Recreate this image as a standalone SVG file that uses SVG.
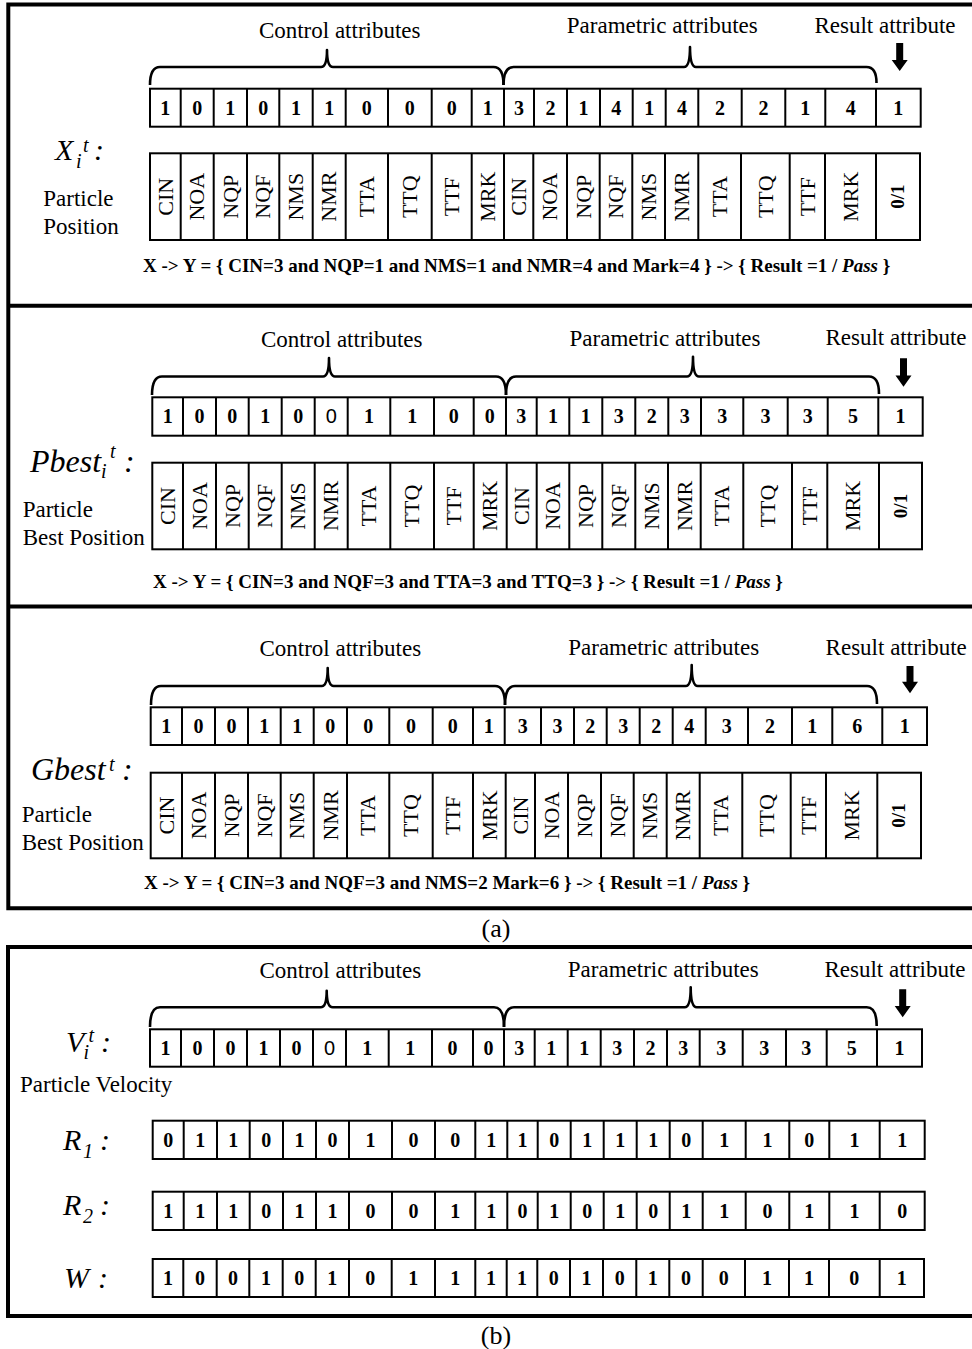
<svg xmlns="http://www.w3.org/2000/svg" width="972" height="1349" viewBox="0 0 972 1349">
<style>
text{font-family:"Liberation Serif","Times New Roman",serif;fill:#000}
.frame{fill:none;stroke:#000;stroke-width:4}
.cell{fill:#fff;stroke:#000;stroke-width:2}
.div{fill:none;stroke:#000;stroke-width:2}
.brace{fill:none;stroke:#000;stroke-width:2.6;stroke-linejoin:round}
.arrow{fill:#000}
.hd{font-size:23px;text-anchor:middle}
.v{font-size:20px;font-weight:bold;text-anchor:middle}
.vs{font-family:"Liberation Sans",Arial,sans-serif;font-size:20px;font-weight:normal;text-anchor:middle}
.lb{font-size:22px;text-anchor:middle}
.lbb{font-size:19px;font-weight:bold;text-anchor:middle}
.t{font-size:23px}
.big{font-style:italic;font-size:30px}
.big2{font-style:italic;font-size:32px}
.sub{font-style:italic;font-size:20px}
.f{font-size:19px;font-weight:bold}
.cap{font-size:26px;text-anchor:middle}
</style>

<g id="frames">
<path class="frame" d="M980 4.5H8.3V908.3H980"/>
<path class="frame" d="M8.3 305.8H980M8.3 606.5H980"/>
<path class="frame" d="M980 947H8V1316H980"/>
</g>

<g id="connectors">
<path class="brace" d="M150 85Q150 67 160 67L321 67Q327 67 327 50Q327 67 333 67L493.5 67Q503.5 67 503.5 85"/>
<path class="brace" d="M503.5 85Q503.5 67 513.5 67L684 67Q690 67 690 47Q690 67 696 67L866.5 67Q876.5 67 876.5 83"/>
<polygon class="arrow" points="896.2,43 903.2,43 903.2,60 907.7,60 899.7,71 891.7,60 896.2,60"/>

<path class="brace" d="M152 395Q152 376.5 162 376.5L323 376.5Q329 376.5 329 358Q329 376.5 335 376.5L496 376.5Q506 376.5 506 395"/>
<path class="brace" d="M506 395Q506 376.5 516 376.5L687 376.5Q693 376.5 693 356.7Q693 376.5 699 376.5L869 376.5Q879 376.5 879 394"/>
<polygon class="arrow" points="900,358.3 907,358.3 907,375.5 911.5,375.5 903.5,386.7 895.5,375.5 900,375.5"/>

<path class="brace" d="M151 705Q151 686 161 686L321.7 686Q327.7 686 327.7 668Q327.7 686 333.7 686L495 686Q505 686 505 705"/>
<path class="brace" d="M505 705Q505 686 515 686L685.7 686Q691.7 686 691.7 665Q691.7 686 697.7 686L867 686Q877 686 877 704"/>
<polygon class="arrow" points="906.5,666 913.5,666 913.5,681.7 918,681.7 910,693.3 902,681.7 906.5,681.7"/>

<path class="brace" d="M150 1027Q150 1007.3 160 1007.3L320.7 1007.3Q326.7 1007.3 326.7 990.7Q326.7 1007.3 332.7 1007.3L494 1007.3Q504 1007.3 504 1027"/>
<path class="brace" d="M504 1027Q504 1007.3 514 1007.3L684.7 1007.3Q690.7 1007.3 690.7 987.3Q690.7 1007.3 696.7 1007.3L866.7 1007.3Q876.7 1007.3 876.7 1026"/>
<polygon class="arrow" points="899.2,989.3 906.2,989.3 906.2,1006 910.7,1006 902.7,1017.3 894.7,1006 899.2,1006"/>
</g>

<g id="section-x">
<text class="hd" x="339.7" y="38.3">Control attributes</text>
<text class="hd" x="662.3" y="33.3">Parametric attributes</text>
<text class="hd" x="885" y="33.3">Result attribute</text>
<g id="x-title">
<text class="big" x="55" y="160">X</text>
<text class="sub" x="76" y="168">i</text>
<text class="sub" x="83" y="151.5">t</text>
<text class="big" x="94" y="160">:</text>
<text class="t" x="43.3" y="206">Particle</text>
<text class="t" x="43.3" y="234">Position</text>
</g>
<g id="x-values">
<rect class="cell" x="150" y="88.7" width="770.7" height="38"/>
<path class="div" d="M180.7 88.7V126.7M213.7 88.7V126.7M247 88.7V126.7M279.3 88.7V126.7M312.7 88.7V126.7M345.7 88.7V126.7M388 88.7V126.7M431.7 88.7V126.7M471.7 88.7V126.7M504 88.7V126.7M534 88.7V126.7M567 88.7V126.7M600 88.7V126.7M632.7 88.7V126.7M665.7 88.7V126.7M698.3 88.7V126.7M741.7 88.7V126.7M785.3 88.7V126.7M825.3 88.7V126.7M876 88.7V126.7"/>
<text class="v" x="165.35" y="114.5">1</text>
<text class="v" x="197.2" y="114.5">0</text>
<text class="v" x="230.35" y="114.5">1</text>
<text class="v" x="263.15" y="114.5">0</text>
<text class="v" x="296" y="114.5">1</text>
<text class="v" x="329.2" y="114.5">1</text>
<text class="v" x="366.85" y="114.5">0</text>
<text class="v" x="409.85" y="114.5">0</text>
<text class="v" x="451.7" y="114.5">0</text>
<text class="v" x="487.85" y="114.5">1</text>
<text class="v" x="519" y="114.5">3</text>
<text class="v" x="550.5" y="114.5">2</text>
<text class="v" x="583.5" y="114.5">1</text>
<text class="v" x="616.35" y="114.5">4</text>
<text class="v" x="649.2" y="114.5">1</text>
<text class="v" x="682" y="114.5">4</text>
<text class="v" x="720" y="114.5">2</text>
<text class="v" x="763.5" y="114.5">2</text>
<text class="v" x="805.3" y="114.5">1</text>
<text class="v" x="850.65" y="114.5">4</text>
<text class="v" x="898.35" y="114.5">1</text>
</g>
<g id="x-labels">
<rect class="cell" x="150" y="153.3" width="770" height="86.7"/>
<path class="div" d="M180.7 153.3V240M213.7 153.3V240M247 153.3V240M279.3 153.3V240M312.7 153.3V240M345.7 153.3V240M388 153.3V240M431.7 153.3V240M471.7 153.3V240M504 153.3V240M533.3 153.3V240M567 153.3V240M599.7 153.3V240M632.3 153.3V240M665 153.3V240M698.3 153.3V240M741 153.3V240M789.7 153.3V240M825 153.3V240M876 153.3V240"/>
<text class="lb" transform="translate(165.35 196.7) rotate(-90)" dy="0.33em">CIN</text>
<text class="lb" transform="translate(197.2 196.7) rotate(-90)" dy="0.33em">NOA</text>
<text class="lb" transform="translate(230.35 196.7) rotate(-90)" dy="0.33em">NQP</text>
<text class="lb" transform="translate(263.15 196.7) rotate(-90)" dy="0.33em">NQF</text>
<text class="lb" transform="translate(296 196.7) rotate(-90)" dy="0.33em">NMS</text>
<text class="lb" transform="translate(329.2 196.7) rotate(-90)" dy="0.33em">NMR</text>
<text class="lb" transform="translate(366.85 196.7) rotate(-90)" dy="0.33em">TTA</text>
<text class="lb" transform="translate(409.85 196.7) rotate(-90)" dy="0.33em">TTQ</text>
<text class="lb" transform="translate(451.7 196.7) rotate(-90)" dy="0.33em">TTF</text>
<text class="lb" transform="translate(487.85 196.7) rotate(-90)" dy="0.33em">MRK</text>
<text class="lb" transform="translate(518.65 196.7) rotate(-90)" dy="0.33em">CIN</text>
<text class="lb" transform="translate(550.15 196.7) rotate(-90)" dy="0.33em">NOA</text>
<text class="lb" transform="translate(583.35 196.7) rotate(-90)" dy="0.33em">NQP</text>
<text class="lb" transform="translate(616 196.7) rotate(-90)" dy="0.33em">NQF</text>
<text class="lb" transform="translate(648.65 196.7) rotate(-90)" dy="0.33em">NMS</text>
<text class="lb" transform="translate(681.65 196.7) rotate(-90)" dy="0.33em">NMR</text>
<text class="lb" transform="translate(719.65 196.7) rotate(-90)" dy="0.33em">TTA</text>
<text class="lb" transform="translate(765.35 196.7) rotate(-90)" dy="0.33em">TTQ</text>
<text class="lb" transform="translate(807.35 196.7) rotate(-90)" dy="0.33em">TTF</text>
<text class="lb" transform="translate(850.5 196.7) rotate(-90)" dy="0.33em">MRK</text>
<text class="lbb" transform="translate(898 196.7) rotate(-90)" dy="0.33em">0/1</text>
</g>
<text class="f" x="143" y="272">X -&gt; Y = { CIN=3 and NQP=1 and NMS=1 and NMR=4 and Mark=4 } -&gt; { Result =1 / <tspan font-style="italic">Pass</tspan> }</text>
</g>

<g id="section-pbest">
<text class="hd" x="341.7" y="346.7">Control attributes</text>
<text class="hd" x="665" y="346">Parametric attributes</text>
<text class="hd" x="896" y="345">Result attribute</text>
<g id="pbest-title">
<text class="big2" x="30" y="471.7">Pbest</text>
<text class="sub" x="101" y="478.3">i</text>
<text class="sub" x="110" y="458.3">t</text>
<text class="big2" x="124" y="471.7">:</text>
<text class="t" x="22.7" y="516.7">Particle</text>
<text class="t" x="22.7" y="545">Best Position</text>
</g>
<g id="pbest-values">
<rect class="cell" x="152.3" y="397.3" width="770.4" height="38.4"/>
<path class="div" d="M183 397.3V435.7M216 397.3V435.7M248.7 397.3V435.7M281.7 397.3V435.7M314.7 397.3V435.7M347.7 397.3V435.7M390.3 397.3V435.7M434 397.3V435.7M473.7 397.3V435.7M506 397.3V435.7M536.7 397.3V435.7M569.3 397.3V435.7M602.3 397.3V435.7M635.3 397.3V435.7M668.3 397.3V435.7M701 397.3V435.7M743.3 397.3V435.7M787.7 397.3V435.7M827.7 397.3V435.7M878.3 397.3V435.7"/>
<text class="v" x="167.65" y="423.3">1</text>
<text class="v" x="199.5" y="423.3">0</text>
<text class="v" x="232.35" y="423.3">0</text>
<text class="v" x="265.2" y="423.3">1</text>
<text class="v" x="298.2" y="423.3">0</text>
<text class="vs" x="331.2" y="423.3">0</text>
<text class="v" x="369" y="423.3">1</text>
<text class="v" x="412.15" y="423.3">1</text>
<text class="v" x="453.85" y="423.3">0</text>
<text class="v" x="489.85" y="423.3">0</text>
<text class="v" x="521.35" y="423.3">3</text>
<text class="v" x="553" y="423.3">1</text>
<text class="v" x="585.8" y="423.3">1</text>
<text class="v" x="618.8" y="423.3">3</text>
<text class="v" x="651.8" y="423.3">2</text>
<text class="v" x="684.65" y="423.3">3</text>
<text class="v" x="722.15" y="423.3">3</text>
<text class="v" x="765.5" y="423.3">3</text>
<text class="v" x="807.7" y="423.3">3</text>
<text class="v" x="853" y="423.3">5</text>
<text class="v" x="900.5" y="423.3">1</text>
</g>
<g id="pbest-labels">
<rect class="cell" x="152.3" y="462.7" width="769.7" height="86.6"/>
<path class="div" d="M183 462.7V549.3M216 462.7V549.3M248.7 462.7V549.3M281.7 462.7V549.3M314.7 462.7V549.3M347.7 462.7V549.3M390.3 462.7V549.3M434 462.7V549.3M473.7 462.7V549.3M506.7 462.7V549.3M536.7 462.7V549.3M569.3 462.7V549.3M602.3 462.7V549.3M635.3 462.7V549.3M668 462.7V549.3M700.7 462.7V549.3M743.3 462.7V549.3M792 462.7V549.3M827.3 462.7V549.3M879 462.7V549.3"/>
<text class="lb" transform="translate(167.65 506) rotate(-90)" dy="0.33em">CIN</text>
<text class="lb" transform="translate(199.5 506) rotate(-90)" dy="0.33em">NOA</text>
<text class="lb" transform="translate(232.35 506) rotate(-90)" dy="0.33em">NQP</text>
<text class="lb" transform="translate(265.2 506) rotate(-90)" dy="0.33em">NQF</text>
<text class="lb" transform="translate(298.2 506) rotate(-90)" dy="0.33em">NMS</text>
<text class="lb" transform="translate(331.2 506) rotate(-90)" dy="0.33em">NMR</text>
<text class="lb" transform="translate(369 506) rotate(-90)" dy="0.33em">TTA</text>
<text class="lb" transform="translate(412.15 506) rotate(-90)" dy="0.33em">TTQ</text>
<text class="lb" transform="translate(453.85 506) rotate(-90)" dy="0.33em">TTF</text>
<text class="lb" transform="translate(490.2 506) rotate(-90)" dy="0.33em">MRK</text>
<text class="lb" transform="translate(521.7 506) rotate(-90)" dy="0.33em">CIN</text>
<text class="lb" transform="translate(553 506) rotate(-90)" dy="0.33em">NOA</text>
<text class="lb" transform="translate(585.8 506) rotate(-90)" dy="0.33em">NQP</text>
<text class="lb" transform="translate(618.8 506) rotate(-90)" dy="0.33em">NQF</text>
<text class="lb" transform="translate(651.65 506) rotate(-90)" dy="0.33em">NMS</text>
<text class="lb" transform="translate(684.35 506) rotate(-90)" dy="0.33em">NMR</text>
<text class="lb" transform="translate(722 506) rotate(-90)" dy="0.33em">TTA</text>
<text class="lb" transform="translate(767.65 506) rotate(-90)" dy="0.33em">TTQ</text>
<text class="lb" transform="translate(809.65 506) rotate(-90)" dy="0.33em">TTF</text>
<text class="lb" transform="translate(853.15 506) rotate(-90)" dy="0.33em">MRK</text>
<text class="lbb" transform="translate(900.5 506) rotate(-90)" dy="0.33em">0/1</text>
</g>
<text class="f" x="153" y="587.5">X -&gt; Y = { CIN=3 and NQF=3 and TTA=3 and TTQ=3 } -&gt; { Result =1 / <tspan font-style="italic">Pass</tspan> }</text>
</g>

<g id="section-gbest">
<text class="hd" x="340.3" y="656">Control attributes</text>
<text class="hd" x="663.7" y="655">Parametric attributes</text>
<text class="hd" x="896.2" y="655">Result attribute</text>
<g id="gbest-title">
<text class="big2" x="31" y="780">Gbest</text>
<text class="sub" x="109" y="771" font-size="15">t</text>
<text class="big2" x="122" y="780">:</text>
<text class="t" x="21.7" y="821.7">Particle</text>
<text class="t" x="21.7" y="850">Best Position</text>
</g>
<g id="gbest-values">
<rect class="cell" x="150.7" y="707.3" width="776.3" height="37.7"/>
<path class="div" d="M182 707.3V745M215 707.3V745M248 707.3V745M280.7 707.3V745M313.7 707.3V745M347 707.3V745M389.3 707.3V745M432.7 707.3V745M473 707.3V745M504.7 707.3V745M541 707.3V745M574 707.3V745M606.7 707.3V745M639.7 707.3V745M672.7 707.3V745M705.7 707.3V745M748 707.3V745M792 707.3V745M832.3 707.3V745M882.3 707.3V745"/>
<text class="v" x="166.35" y="733">1</text>
<text class="v" x="198.5" y="733">0</text>
<text class="v" x="231.5" y="733">0</text>
<text class="v" x="264.35" y="733">1</text>
<text class="v" x="297.2" y="733">1</text>
<text class="v" x="330.35" y="733">0</text>
<text class="v" x="368.15" y="733">0</text>
<text class="v" x="411" y="733">0</text>
<text class="v" x="452.85" y="733">0</text>
<text class="v" x="488.85" y="733">1</text>
<text class="v" x="522.85" y="733">3</text>
<text class="v" x="557.5" y="733">3</text>
<text class="v" x="590.35" y="733">2</text>
<text class="v" x="623.2" y="733">3</text>
<text class="v" x="656.2" y="733">2</text>
<text class="v" x="689.2" y="733">4</text>
<text class="v" x="726.85" y="733">3</text>
<text class="v" x="770" y="733">2</text>
<text class="v" x="812.15" y="733">1</text>
<text class="v" x="857.3" y="733">6</text>
<text class="v" x="904.65" y="733">1</text>
</g>
<g id="gbest-labels">
<rect class="cell" x="150.7" y="772.7" width="770.3" height="85.6"/>
<path class="div" d="M182 772.7V858.3M215 772.7V858.3M248 772.7V858.3M280.7 772.7V858.3M313.7 772.7V858.3M347 772.7V858.3M389.3 772.7V858.3M432.7 772.7V858.3M473 772.7V858.3M505.7 772.7V858.3M535 772.7V858.3M568 772.7V858.3M601 772.7V858.3M633.7 772.7V858.3M666.7 772.7V858.3M699.7 772.7V858.3M742.3 772.7V858.3M790.7 772.7V858.3M826 772.7V858.3M877.3 772.7V858.3"/>
<text class="lb" transform="translate(166.35 815.5) rotate(-90)" dy="0.33em">CIN</text>
<text class="lb" transform="translate(198.5 815.5) rotate(-90)" dy="0.33em">NOA</text>
<text class="lb" transform="translate(231.5 815.5) rotate(-90)" dy="0.33em">NQP</text>
<text class="lb" transform="translate(264.35 815.5) rotate(-90)" dy="0.33em">NQF</text>
<text class="lb" transform="translate(297.2 815.5) rotate(-90)" dy="0.33em">NMS</text>
<text class="lb" transform="translate(330.35 815.5) rotate(-90)" dy="0.33em">NMR</text>
<text class="lb" transform="translate(368.15 815.5) rotate(-90)" dy="0.33em">TTA</text>
<text class="lb" transform="translate(411 815.5) rotate(-90)" dy="0.33em">TTQ</text>
<text class="lb" transform="translate(452.85 815.5) rotate(-90)" dy="0.33em">TTF</text>
<text class="lb" transform="translate(489.35 815.5) rotate(-90)" dy="0.33em">MRK</text>
<text class="lb" transform="translate(520.35 815.5) rotate(-90)" dy="0.33em">CIN</text>
<text class="lb" transform="translate(551.5 815.5) rotate(-90)" dy="0.33em">NOA</text>
<text class="lb" transform="translate(584.5 815.5) rotate(-90)" dy="0.33em">NQP</text>
<text class="lb" transform="translate(617.35 815.5) rotate(-90)" dy="0.33em">NQF</text>
<text class="lb" transform="translate(650.2 815.5) rotate(-90)" dy="0.33em">NMS</text>
<text class="lb" transform="translate(683.2 815.5) rotate(-90)" dy="0.33em">NMR</text>
<text class="lb" transform="translate(721 815.5) rotate(-90)" dy="0.33em">TTA</text>
<text class="lb" transform="translate(766.5 815.5) rotate(-90)" dy="0.33em">TTQ</text>
<text class="lb" transform="translate(808.35 815.5) rotate(-90)" dy="0.33em">TTF</text>
<text class="lb" transform="translate(851.65 815.5) rotate(-90)" dy="0.33em">MRK</text>
<text class="lbb" transform="translate(899.15 815.5) rotate(-90)" dy="0.33em">0/1</text>
</g>
<text class="f" x="144" y="889">X -&gt; Y = { CIN=3 and NQF=3 and NMS=2 Mark=6 } -&gt; { Result =1 / <tspan font-style="italic">Pass</tspan> }</text>
</g>

<text class="cap" x="496" y="937">(a)</text>

<g id="section-velocity">
<text class="hd" x="340.3" y="978">Control attributes</text>
<text class="hd" x="663.3" y="977">Parametric attributes</text>
<text class="hd" x="895" y="976.7">Result attribute</text>
<g id="v-title">
<text class="big" x="66" y="1052">V</text>
<text class="sub" x="83.5" y="1059.3">i</text>
<text class="sub" x="88.5" y="1041.7">t</text>
<text class="big" x="101" y="1052">:</text>
<text class="t" x="20" y="1091.7">Particle Velocity</text>
</g>
<g id="v-values">
<rect class="cell" x="150" y="1029.3" width="772" height="37.4"/>
<path class="div" d="M181 1029.3V1066.7M214 1029.3V1066.7M247 1029.3V1066.7M280 1029.3V1066.7M313 1029.3V1066.7M346 1029.3V1066.7M388.7 1029.3V1066.7M432 1029.3V1066.7M473 1029.3V1066.7M504 1029.3V1066.7M534.7 1029.3V1066.7M567.7 1029.3V1066.7M600.7 1029.3V1066.7M634 1029.3V1066.7M667 1029.3V1066.7M699.7 1029.3V1066.7M742.7 1029.3V1066.7M786 1029.3V1066.7M826.7 1029.3V1066.7M877 1029.3V1066.7"/>
<text class="v" x="165.5" y="1054.8">1</text>
<text class="v" x="197.5" y="1054.8">0</text>
<text class="v" x="230.5" y="1054.8">0</text>
<text class="v" x="263.5" y="1054.8">1</text>
<text class="v" x="296.5" y="1054.8">0</text>
<text class="vs" x="329.5" y="1054.8">0</text>
<text class="v" x="367.35" y="1054.8">1</text>
<text class="v" x="410.35" y="1054.8">1</text>
<text class="v" x="452.5" y="1054.8">0</text>
<text class="v" x="488.5" y="1054.8">0</text>
<text class="v" x="519.35" y="1054.8">3</text>
<text class="v" x="551.2" y="1054.8">1</text>
<text class="v" x="584.2" y="1054.8">1</text>
<text class="v" x="617.35" y="1054.8">3</text>
<text class="v" x="650.5" y="1054.8">2</text>
<text class="v" x="683.35" y="1054.8">3</text>
<text class="v" x="721.2" y="1054.8">3</text>
<text class="v" x="764.35" y="1054.8">3</text>
<text class="v" x="806.35" y="1054.8">3</text>
<text class="v" x="851.85" y="1054.8">5</text>
<text class="v" x="899.5" y="1054.8">1</text>
</g>
</g>

<g id="section-r1">
<text class="big" x="63" y="1150">R</text>
<text class="sub" x="83" y="1158">1</text>
<text class="big" x="100" y="1150">:</text>
<rect class="cell" x="152.7" y="1120.7" width="772" height="38.3"/>
<path class="div" d="M183.7 1120.7V1159M217 1120.7V1159M249.7 1120.7V1159M283 1120.7V1159M316 1120.7V1159M349 1120.7V1159M392 1120.7V1159M435 1120.7V1159M475.3 1120.7V1159M507.3 1120.7V1159M537.7 1120.7V1159M570.7 1120.7V1159M603.7 1120.7V1159M636.7 1120.7V1159M669.7 1120.7V1159M702.7 1120.7V1159M745.7 1120.7V1159M789.3 1120.7V1159M829.3 1120.7V1159M879.7 1120.7V1159"/>
<text class="v" x="168.2" y="1146.65">0</text>
<text class="v" x="200.35" y="1146.65">1</text>
<text class="v" x="233.35" y="1146.65">1</text>
<text class="v" x="266.35" y="1146.65">0</text>
<text class="v" x="299.5" y="1146.65">1</text>
<text class="v" x="332.5" y="1146.65">0</text>
<text class="v" x="370.5" y="1146.65">1</text>
<text class="v" x="413.5" y="1146.65">0</text>
<text class="v" x="455.15" y="1146.65">0</text>
<text class="v" x="491.3" y="1146.65">1</text>
<text class="v" x="522.5" y="1146.65">1</text>
<text class="v" x="554.2" y="1146.65">0</text>
<text class="v" x="587.2" y="1146.65">1</text>
<text class="v" x="620.2" y="1146.65">1</text>
<text class="v" x="653.2" y="1146.65">1</text>
<text class="v" x="686.2" y="1146.65">0</text>
<text class="v" x="724.2" y="1146.65">1</text>
<text class="v" x="767.5" y="1146.65">1</text>
<text class="v" x="809.3" y="1146.65">0</text>
<text class="v" x="854.5" y="1146.65">1</text>
<text class="v" x="902.2" y="1146.65">1</text>
</g>

<g id="section-r2">
<text class="big" x="63" y="1215">R</text>
<text class="sub" x="83" y="1223">2</text>
<text class="big" x="100" y="1215">:</text>
<rect class="cell" x="152.7" y="1191.7" width="772" height="38.3"/>
<path class="div" d="M183.7 1191.7V1230M217 1191.7V1230M249.7 1191.7V1230M283 1191.7V1230M316 1191.7V1230M349 1191.7V1230M392 1191.7V1230M435 1191.7V1230M475.3 1191.7V1230M507.3 1191.7V1230M537.7 1191.7V1230M570.7 1191.7V1230M603.7 1191.7V1230M636.7 1191.7V1230M669.7 1191.7V1230M702.7 1191.7V1230M745.7 1191.7V1230M789.3 1191.7V1230M829.3 1191.7V1230M879.7 1191.7V1230"/>
<text class="v" x="168.2" y="1217.65">1</text>
<text class="v" x="200.35" y="1217.65">1</text>
<text class="v" x="233.35" y="1217.65">1</text>
<text class="v" x="266.35" y="1217.65">0</text>
<text class="v" x="299.5" y="1217.65">1</text>
<text class="v" x="332.5" y="1217.65">1</text>
<text class="v" x="370.5" y="1217.65">0</text>
<text class="v" x="413.5" y="1217.65">0</text>
<text class="v" x="455.15" y="1217.65">1</text>
<text class="v" x="491.3" y="1217.65">1</text>
<text class="v" x="522.5" y="1217.65">0</text>
<text class="v" x="554.2" y="1217.65">1</text>
<text class="v" x="587.2" y="1217.65">0</text>
<text class="v" x="620.2" y="1217.65">1</text>
<text class="v" x="653.2" y="1217.65">0</text>
<text class="v" x="686.2" y="1217.65">1</text>
<text class="v" x="724.2" y="1217.65">1</text>
<text class="v" x="767.5" y="1217.65">0</text>
<text class="v" x="809.3" y="1217.65">1</text>
<text class="v" x="854.5" y="1217.65">1</text>
<text class="v" x="902.2" y="1217.65">0</text>
</g>

<g id="section-w">
<text class="big" x="64" y="1288">W</text>
<text class="big" x="98" y="1288">:</text>
<rect class="cell" x="152.7" y="1259" width="771.3" height="38"/>
<path class="div" d="M183.3 1259V1297M216.7 1259V1297M249.3 1259V1297M282.7 1259V1297M315.7 1259V1297M349 1259V1297M391.7 1259V1297M435 1259V1297M475.3 1259V1297M506.7 1259V1297M537.3 1259V1297M570 1259V1297M603 1259V1297M636.3 1259V1297M669.3 1259V1297M702.7 1259V1297M745 1259V1297M789 1259V1297M829 1259V1297M879.7 1259V1297"/>
<text class="v" x="168" y="1284.8">1</text>
<text class="v" x="200" y="1284.8">0</text>
<text class="v" x="233" y="1284.8">0</text>
<text class="v" x="266" y="1284.8">1</text>
<text class="v" x="299.2" y="1284.8">0</text>
<text class="v" x="332.35" y="1284.8">1</text>
<text class="v" x="370.35" y="1284.8">0</text>
<text class="v" x="413.35" y="1284.8">1</text>
<text class="v" x="455.15" y="1284.8">1</text>
<text class="v" x="491" y="1284.8">1</text>
<text class="v" x="522" y="1284.8">1</text>
<text class="v" x="553.65" y="1284.8">0</text>
<text class="v" x="586.5" y="1284.8">1</text>
<text class="v" x="619.65" y="1284.8">0</text>
<text class="v" x="652.8" y="1284.8">1</text>
<text class="v" x="686" y="1284.8">0</text>
<text class="v" x="723.85" y="1284.8">0</text>
<text class="v" x="767" y="1284.8">1</text>
<text class="v" x="809" y="1284.8">1</text>
<text class="v" x="854.35" y="1284.8">0</text>
<text class="v" x="901.85" y="1284.8">1</text>
</g>

<text class="cap" x="496" y="1344">(b)</text>
</svg>
